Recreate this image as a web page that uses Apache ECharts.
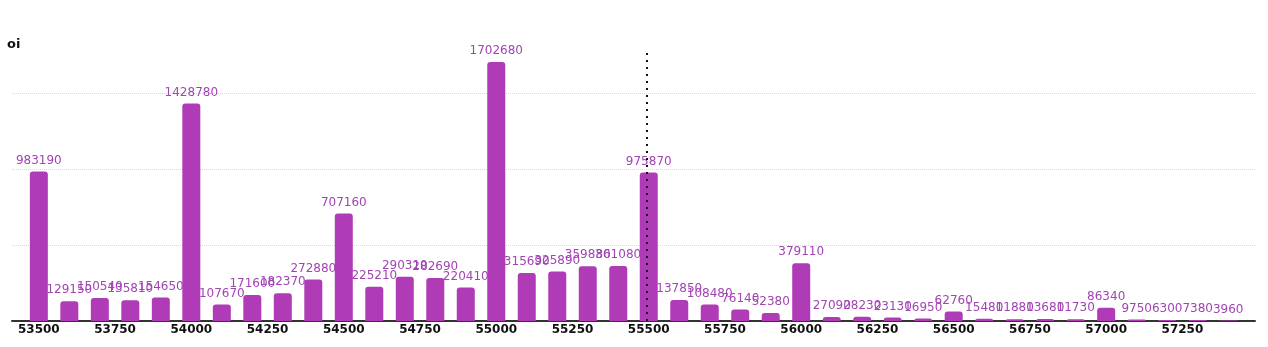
<!DOCTYPE html>
<html><head><meta charset="utf-8">
<script src="https://cdn.jsdelivr.net/npm/echarts@6/dist/echarts.min.js"></script>
<style>html,body{margin:0;padding:0;background:#fff}#c{width:1268px;height:347px}</style>
</head><body><div id="c"></div>
<script>
const strikes = [53500,53600,53700,53800,53900,54000,54100,54200,54300,54400,54500,54600,54700,54800,54900,55000,55100,55200,55300,55400,55500,55600,55700,55800,55900,56000,56100,56200,56300,56400,56500,56600,56700,56800,56900,57000,57100,57200,57300,57400];
const oi = [983190,129150,150540,135810,154650,1428780,107670,171600,182370,272880,707160,225210,290310,282690,220410,1702680,315690,325890,359880,361080,975870,137850,108480,76140,52380,379110,27090,28230,23130,16950,62760,15480,11880,13680,11730,86340,9750,6300,7380,3960];
const tickLabels = [53500,53750,54000,54250,54500,54750,55000,55250,55500,55750,56000,56250,56500,56750,57000,57250];
const spotLine = 55495;
const yAxisName = 'oi';

const chart = echarts.init(document.getElementById('c'));
const font = "'DejaVu Sans', sans-serif";
chart.setOption({
  animation:false,
  title:{text:yAxisName,left:7,top:38,padding:0,textStyle:{fontSize:13,fontWeight:'bold',color:'#111',fontFamily:font}},
  grid:{left:12,right:13,top:49,bottom:26,containLabel:false},
  xAxis:{type:'value',min:53412,max:57488,
    axisLine:{show:true,lineStyle:{color:'#333',width:2}},
    axisTick:{show:false},
    splitLine:{show:false},
    axisLabel:{customValues:tickLabels,formatter:v=>String(v),fontSize:12,fontWeight:'bold',color:'#111',fontFamily:font,margin:3}
  },
  yAxis:{type:'value',min:0,max:v=>v.max*1.05,interval:500000,
    axisLabel:{show:false},axisLine:{show:false},axisTick:{show:false},
    splitLine:{show:true,showMinLine:false,showMaxLine:false,lineStyle:{type:'dotted',color:'#d9d9d9',width:1}}
  },
  series:[{type:'bar',barWidth:18,
    data:strikes.map((s,i)=>[s,oi[i]]),
    itemStyle:{color:'#b03bb6',borderRadius:[3,3,0,0]},
    label:{show:true,position:'top',distance:5,color:'#a244b3',fontSize:12,fontFamily:font,formatter:p=>String(p.value[1])},
    markLine:{silent:true,symbol:'none',label:{show:false},
      lineStyle:{type:[2,5],color:'#111',width:2},
      data:[{xAxis:spotLine}]}
  }]
});
</script></body></html>
